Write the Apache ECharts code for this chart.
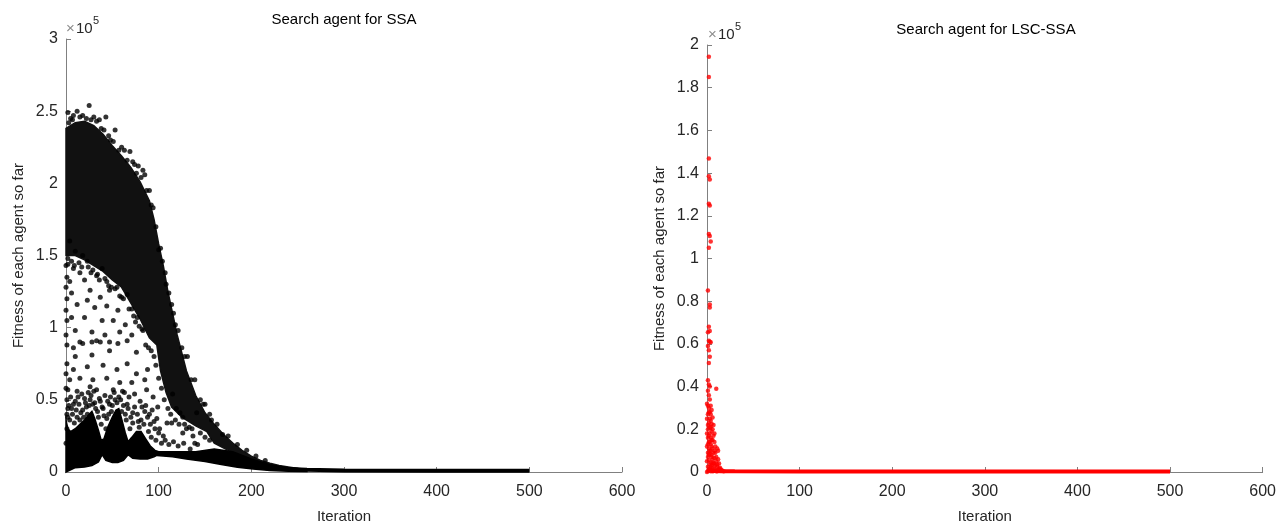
<!DOCTYPE html>
<html><head><meta charset="utf-8">
<script src="https://cdn.jsdelivr.net/npm/echarts@6/dist/echarts.min.js"></script>
<style>html,body{margin:0;padding:0;background:#fff}#c{width:1279px;height:529px}</style>
</head><body><div id="c"></div>
<script>
// Values are fitness in units of 1e5 (as the axes show "x10^5"), x = iteration.
const xTicks = [0, 100, 200, 300, 400, 500, 600];

// ---- SSA (left) ----
// dense upper cloud: upper and lower envelopes
const ssaCloudTopIt  = [0,10,20,30,40,50,60,70,80,90,95,100,105,110,115,120,130,140,150,160,170,180,190,200,210,220,230,240,250];
const ssaCloudTopVal = [2.38,2.42,2.43,2.40,2.34,2.26,2.19,2.11,2.01,1.88,1.75,1.58,1.43,1.25,1.10,0.95,0.70,0.53,0.41,0.33,0.26,0.20,0.15,0.11,0.08,0.06,0.045,0.035,0.025];
const ssaCloudBotIt  = [0,10,20,30,40,50,60,70,80,90,98,102,108,114,125,140,152,160,175,190,210,230,250];
const ssaCloudBotVal = [1.50,1.50,1.47,1.43,1.39,1.33,1.28,1.17,1.06,0.93,0.88,0.70,0.55,0.45,0.38,0.32,0.28,0.20,0.15,0.10,0.05,0.025,0.015];
// solid scalloped bottom band
const ssaBandTopIt  = [0,2,5,10,15,20,25,28,31,35,38,41,45,50,54,57,60,64,67,71,76,81,86,91,96,100,120,140,160,180,200,220,240,260];
const ssaBandTopVal = [0.36,0.30,0.28,0.30,0.33,0.36,0.40,0.42,0.37,0.29,0.22,0.23,0.31,0.38,0.43,0.44,0.37,0.27,0.21,0.24,0.28,0.28,0.23,0.18,0.15,0.14,0.14,0.14,0.16,0.14,0.09,0.05,0.03,0.02];
const ssaBandBotIt  = [0,10,20,28,35,39,43,50,56,62,67,72,80,88,95,98,115,130,150,166,185,202,220,240,260];
const ssaBandBotVal = [0.0,0.03,0.035,0.045,0.07,0.12,0.08,0.065,0.065,0.08,0.12,0.095,0.09,0.09,0.105,0.115,0.105,0.09,0.072,0.053,0.033,0.02,0.01,0.005,0.003];
// converged tail
const ssaTailIt  = [240,260,300,400,500];
const ssaTailVal = [0.02,0.015,0.01,0.008,0.008];
// individual agents
const ssaDots = [
 [2,2.49],[12,2.50],[25,2.54],[43,2.46],[53,2.37],[46,2.33],[69,2.22],[74,2.13],[83,2.09],[85,2.06],[94,1.83],[100,1.54],[104,1.46],[108,1.30],[114,1.16],[118,1.02],[131,0.80],[139,0.64],[150,0.47],[157,0.36],[169,0.26],[5,2.45],[8,2.47],[30,2.46],[36,2.44],[60,2.25],[78,2.12],[90,1.95],
 [3,2.42],[7,2.44],[15,2.46],[18,2.47],[22,2.45],[27,2.44],[33,2.43],[38,2.38],[41,2.37],[48,2.30],[51,2.29],[57,2.23],[63,2.23],[66,2.16],[72,2.15],[76,2.07],[81,2.04],[87,1.95],[92,1.85],[97,1.70],[102,1.55],[107,1.38],[111,1.24],[116,1.10],[121,0.98],[125,0.86],[128,0.80],[135,0.64],[145,0.50],[148,0.47],[155,0.40],[163,0.33],[175,0.25],[185,0.19],[195,0.15],[205,0.11],[215,0.08],
 [2,1.44],[6,1.46],[9,1.43],[14,1.45],[17,1.42],[24,1.42],[27,1.38],[34,1.37],[36,1.33],[42,1.34],[46,1.29],[49,1.28],[53,1.27],[58,1.22],[62,1.20],[68,1.13],[73,1.08],[75,1.04],[79,1.01],[82,0.99],[86,0.88],[89,0.86],[92,0.84],[95,0.80],[97,0.74],[100,0.65],[103,0.58],[106,0.50],[110,0.44],[113,0.40],[118,0.36],[122,0.33],[128,0.33],[133,0.31],[145,0.27],[150,0.24],[155,0.22],
 [4,1.60],[10,1.53],[2,1.48],[18,1.50],[23,1.46],[8,1.41],[15,1.38],[29,1.40],[39,1.41],[4,1.32],[20,1.33],[33,1.36],[44,1.32],[6,1.24],[26,1.26],[37,1.21],[47,1.26],[55,1.28],[60,1.21],[66,1.23],[12,1.16],[23,1.19],[31,1.14],[44,1.15],[56,1.12],[71,1.13],[6,1.07],[20,1.07],[39,1.05],[51,1.05],[64,1.02],[77,1.07],[10,0.98],[28,0.97],[42,0.95],[58,0.97],[71,0.95],[83,0.98],[15,0.90],[33,0.91],[47,0.90],[66,0.91],
 [8,0.86],[18,0.89],[28,0.90],[37,0.90],[10,0.80],[28,0.81],[47,0.84],[56,0.89],[76,0.83],[8,0.71],[23,0.73],[40,0.74],[55,0.71],[66,0.75],[76,0.68],[88,0.71],[4,0.64],[15,0.65],[29,0.64],[44,0.65],[58,0.62],[71,0.62],[85,0.64],[2,0.57],[12,0.56],[26,0.59],[33,0.57],[51,0.57],[61,0.56],[74,0.54],[87,0.57],[94,0.52],[1,0.50],[10,0.49],[20,0.51],[37,0.49],[47,0.47],[66,0.47],[80,0.49],[99,0.45],[6,0.44],[18,0.43],[40,0.44],[72,0.41],[85,0.42],[98,0.37],[2,0.38],[44,0.37],[78,0.35],[91,0.33],[101,0.30],[109,0.34],[105,0.25],[1,0.30],[0,0.20],
 [115,0.54],[119,0.44],[126,0.38],[114,0.34],[130,0.30],[137,0.25],[142,0.19],[134,0.16],[123,0.41],[141,0.41],[126,0.27],[136,0.30],[139,0.20],
 [3,0.46],[7,0.40],[14,0.47],[16,0.41],[22,0.45],[24,0.55],[31,0.48],[34,0.42],[42,0.53],[45,0.49],[49,0.42],[53,0.50],[57,0.52],[62,0.46],[64,0.40],[68,0.52],[70,0.38],[82,0.45],[88,0.38],[93,0.43],[96,0.30],[12,0.38],[26,0.50],
 [1,0.40],[2,0.44],[4,0.36],[5,0.52],[8,0.47],[9,0.34],[11,0.43],[13,0.52],[15,0.36],[17,0.54],[19,0.38],[21,0.48],[23,0.40],[25,0.46],[27,0.53],[29,0.47],[30,0.56],[32,0.44],[35,0.38],[36,0.51],[38,0.33],[39,0.45],[41,0.39],[43,0.30],[46,0.40],[48,0.52],[50,0.46],[52,0.55],[55,0.48],[59,0.50],[60,0.42],[63,0.55],[65,0.36],[67,0.44],[69,0.30],[72,0.34],[74,0.45],[77,0.40],[79,0.31],[81,0.36],[84,0.33],[86,0.46],[89,0.28],[90,0.40],[92,0.24],[95,0.35],[97,0.22],[100,0.27],[103,0.20],[107,0.22],[111,0.19],[116,0.21],[121,0.18],[127,0.20],
 [0,0.95],[1,1.05],[0,1.12],[1,1.20],[0,1.28],[1,0.75],[0,0.68],[1,0.88],[0,0.58],[1,1.35],[0,1.43]
];

// ---- LSC-SSA (right) ----
const lscDots = [
 [2,1.945],[2,1.85],[2,1.468],[2,1.385],[3,1.37],[2,1.257],[3,1.248],[2,1.115],[3,1.105],[4,1.08],[2,1.05],[1,0.85],[3,0.784],[3,0.77],[2,0.68],[3,0.66],[1,0.655],[2,0.615],[3,0.61],[4,0.608],[1,0.59],[2,0.57],[3,0.54],[2,0.51],[1,0.43],[2,0.41],[3,0.40],[10,0.39],[1,0.38],[2,0.36],[3,0.34],[4,0.31],[2,0.30],[5,0.29],[3,0.28],[1,0.27],[6,0.255],[4,0.24],[2,0.23],[5,0.225],[7,0.22],[3,0.21],[1,0.20],[5,0.19],[8,0.18],[2,0.17],[4,0.16],[6,0.15],[3,0.14],[1,0.13],[9,0.12],[5,0.12],[2,0.11],[11,0.11],[12,0.10],[4,0.10],[7,0.09],[3,0.085],[5,0.08],[1,0.07],[8,0.065],[6,0.06],[2,0.055],[10,0.05],[4,0.045],[7,0.04],[13,0.04],[3,0.035],[9,0.03],[5,0.03],[1,0.025],[11,0.025],[6,0.02],[14,0.02],[3,0.015],[8,0.015],[2,0.01],[12,0.01],[5,0.008],[16,0.008],[1,0.005],[7,0.005],[10,0.004],[18,0.004],[4,0.003],
 [0,0.32],[1,0.31],[2,0.28],[4,0.27],[0,0.25],[3,0.25],[1,0.22],[4,0.21],[6,0.20],[0,0.18],[3,0.18],[7,0.17],[1,0.16],[5,0.15],[8,0.14],[2,0.14],[4,0.13],[0,0.12],[6,0.11],[3,0.10],[8,0.10],[1,0.09],[9,0.09],[5,0.07],[10,0.07],[2,0.08],[6,0.045],[12,0.06],[0,0.05],[8,0.04],[11,0.035],[4,0.025],[13,0.015],[15,0.012],[9,0.008],[14,0.006],[6,0.003],[11,0.003],[0,0.0]
];
const lscTailIt  = [5,15,30,100,300,500];
const lscTailVal = [0.006,0.004,0.003,0.002,0.002,0.002];

const FONT = 'Liberation Sans, Arial, Helvetica, sans-serif';
const AXIS_C = '#808080';
const TXT_C = '#262626';

function pairs(xs, ys) { return xs.map((x, i) => [x, ys[i]]); }

function bandSeries(idx, topIt, topVal, botIt, botVal, color) {
  return {
    type: 'custom', xAxisIndex: idx, yAxisIndex: idx, silent: true, z: 2,
    data: [[topIt[0], topVal[0]]],
    renderItem: function (params, api) {
      const pts = [];
      for (let i = 0; i < topIt.length; i++) pts.push(api.coord([topIt[i], topVal[i]]));
      for (let i = botIt.length - 1; i >= 0; i--) pts.push(api.coord([botIt[i], botVal[i]]));
      return { type: 'polygon', shape: { points: pts }, style: { fill: color, stroke: color, lineWidth: 1.5 } };
    }
  };
}

function xAx(idx) {
  return {
    gridIndex: idx, type: 'value', min: 0, max: 600, interval: 100,
    axisLine: { show: true, onZero: false, lineStyle: { color: AXIS_C, width: 1 } },
    axisTick: { show: true, inside: true, length: 5, lineStyle: { color: AXIS_C } },
    axisLabel: { color: TXT_C, fontSize: 16, fontFamily: FONT, margin: 12, showMaxLabel: true },
    splitLine: { show: false },
    name: 'Iteration', nameLocation: 'middle', nameGap: 37,
    nameTextStyle: { color: TXT_C, fontSize: 15, fontFamily: FONT }
  };
}
function yAx(idx, max, interval) {
  return {
    gridIndex: idx, type: 'value', min: 0, max: max, interval: interval,
    axisLine: { show: true, onZero: false, lineStyle: { color: AXIS_C, width: 1 } },
    axisTick: { show: true, inside: true, length: 5, lineStyle: { color: AXIS_C } },
    axisLabel: { color: TXT_C, fontSize: 16, fontFamily: FONT, margin: 8, showMaxLabel: true },
    splitLine: { show: false },
    name: 'Fitness of each agent so far', nameLocation: 'middle', nameGap: 40,
    nameTextStyle: { color: TXT_C, fontSize: 15, fontFamily: FONT }
  };
}

const chart = echarts.init(document.getElementById('c'), null, { renderer: 'canvas' });
chart.setOption({
  animation: false,
  backgroundColor: '#fff',
  grid: [
    { left: 66, top: 39, width: 556, height: 437 },
    { left: 707, top: 45, width: 557, height: 436 }
  ],
  xAxis: [xAx(0), xAx(1)],
  yAxis: [yAx(0, 3, 0.5), yAx(1, 2, 0.2)],
  graphic: [
    { type: 'text', x: 344, y: 20, style: { text: 'Search agent for SSA', align: 'center', verticalAlign: 'middle', font: '15px ' + FONT, fill: '#000' } },
    { type: 'text', x: 986, y: 30, style: { text: 'Search agent for LSC-SSA', align: 'center', verticalAlign: 'middle', font: '15px ' + FONT, fill: '#000' } },
    { type: 'text', x: 66, y: 29, style: { text: '×', align: 'left', verticalAlign: 'middle', font: '15px ' + FONT, fill: '#8c8c8c' } },
    { type: 'text', x: 76, y: 29, style: { text: '10', align: 'left', verticalAlign: 'middle', font: '15px ' + FONT, fill: TXT_C } },
    { type: 'text', x: 93, y: 21, style: { text: '5', align: 'left', verticalAlign: 'middle', font: '11px ' + FONT, fill: TXT_C } },
    { type: 'text', x: 708, y: 35, style: { text: '×', align: 'left', verticalAlign: 'middle', font: '15px ' + FONT, fill: '#8c8c8c' } },
    { type: 'text', x: 718, y: 35, style: { text: '10', align: 'left', verticalAlign: 'middle', font: '15px ' + FONT, fill: TXT_C } },
    { type: 'text', x: 735, y: 27, style: { text: '5', align: 'left', verticalAlign: 'middle', font: '11px ' + FONT, fill: TXT_C } }
  ],
  series: [
    bandSeries(0, ssaCloudTopIt, ssaCloudTopVal, ssaCloudBotIt, ssaCloudBotVal, '#111'),
    bandSeries(0, ssaBandTopIt, ssaBandTopVal, ssaBandBotIt, ssaBandBotVal, '#000'),
    { type: 'line', xAxisIndex: 0, yAxisIndex: 0, data: pairs(ssaTailIt, ssaTailVal), showSymbol: false, symbol: 'none',
      lineStyle: { color: '#000', width: 4 }, z: 3, silent: true },
    { type: 'scatter', xAxisIndex: 0, yAxisIndex: 0, data: ssaDots, symbol: 'circle', symbolSize: 5,
      itemStyle: { color: '#000' }, z: 4, silent: true },
    { type: 'line', xAxisIndex: 1, yAxisIndex: 1, data: pairs(lscTailIt, lscTailVal), showSymbol: false, symbol: 'none',
      lineStyle: { color: '#ff0000', width: 4 }, z: 3, silent: true },
    { type: 'scatter', xAxisIndex: 1, yAxisIndex: 1, data: lscDots, symbol: 'circle', symbolSize: 4.5,
      itemStyle: { color: '#ff0000' }, z: 4, silent: true }
  ]
});
</script>
</body></html>
